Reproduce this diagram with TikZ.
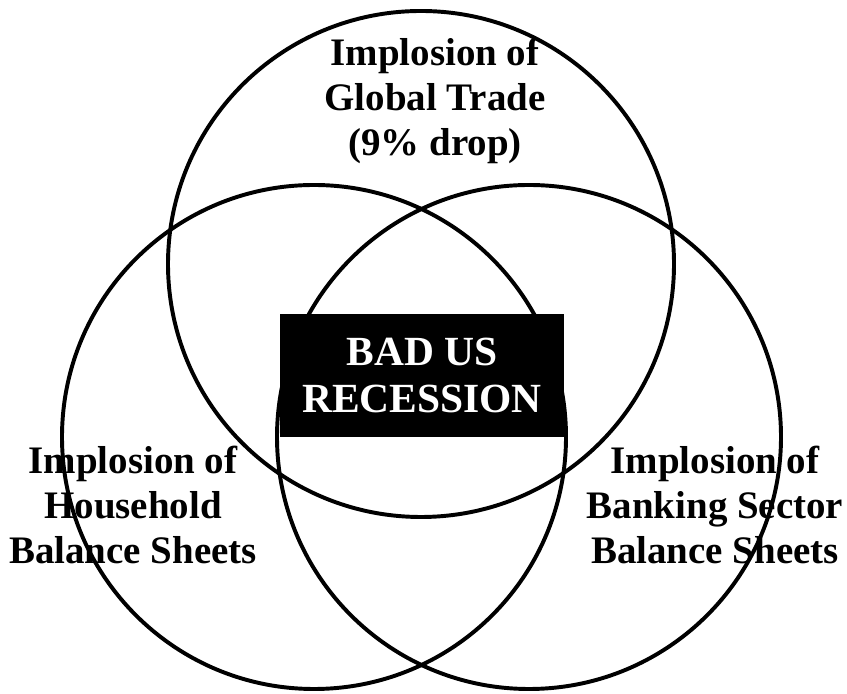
\documentclass[tikz,border=0pt]{standalone}
\usepackage{fontspec}
\setmainfont{Liberation Serif}
\usepackage{tikz}
\usetikzlibrary{positioning}
\usepackage{xcolor}

\begin{document}
\begin{tikzpicture}[x=0.025cm, y=0.025cm,
    ring/.style={line width=2.8pt, black},
    label/.style={align=center, inner sep=0pt,
      font=\bfseries\fontsize{27.7}{32}\selectfont},
    core/.style={fill=black, text=white, align=center, inner sep=0pt,
      minimum width=7.1cm, minimum height=3.05cm,
      font=\bfseries\fontsize{29.5}{33.4}\selectfont}]
    \useasboundingbox (0,0) rectangle (847,694);

    % Circles
    \draw[ring] (421,430) circle (253);
    \draw[ring] (314,257) circle (252);
    \draw[ring] (529,257) circle (252);

    % Centre box
    \node[core] (recession) at (422,318.5) {BAD US\\RECESSION};

    % Labels
    \node[label] (trade) at (435,593) {Implosion of\\Global Trade\\(9\% drop)};
    \node[label] (household) at (133,189) {Implosion of\\Household\\Balance Sheets};
    \node[label] (banking) at (715,189) {Implosion of\\Banking Sector\\Balance Sheets};
  \end{tikzpicture}
\end{document}
